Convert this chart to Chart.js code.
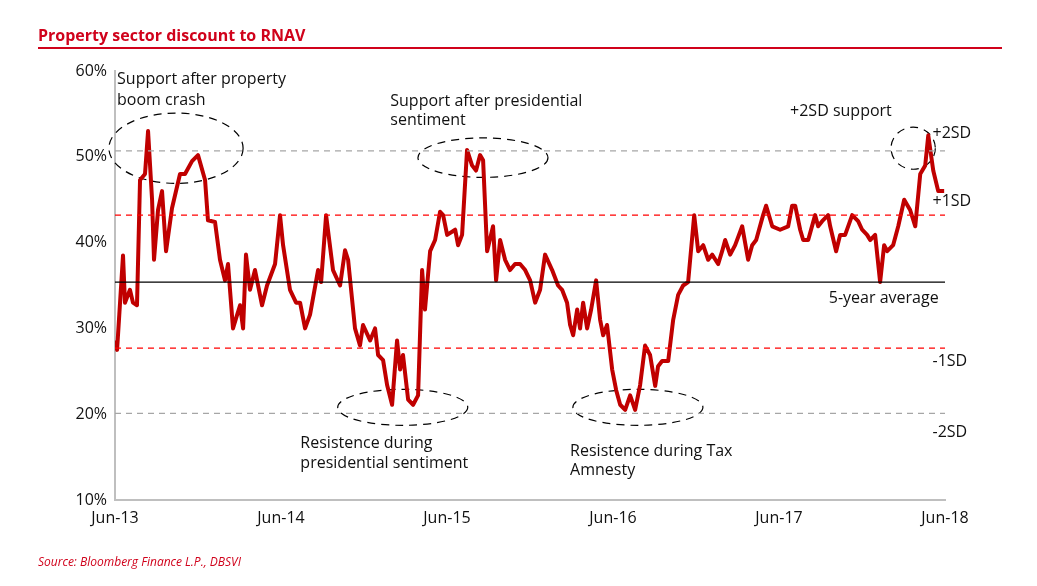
<!DOCTYPE html>
<html>
<head>
<meta charset="utf-8">
<script src="https://cdn.jsdelivr.net/npm/chart.js@4/dist/chart.umd.min.js"></script>
<style>
  body { margin: 0; background: #fff; }
  #c { display: block; }
</style>
</head>
<body>
<canvas id="c" width="1037" height="586"></canvas>
<script>
const months = ['Jun-13', 'Jun-14', 'Jun-15', 'Jun-16', 'Jun-17', 'Jun-18'];

// [months since Jun-13, discount %]
const discount = [
  [0,28.6],[0.15,27.5],[0.58,38.5],[0.72,33],[1.08,34.5],[1.3,33],[1.59,32.7],[1.81,47.3],[2.17,48],[2.39,53],
  [2.68,45],[2.82,38],[3.11,43.8],[3.4,46],[3.69,39],[4.12,44],[4.7,48],[5.06,48],[5.57,49.5],[6.0,50.2],
  [6.51,47.3],[6.72,42.6],[7.23,42.4],[7.59,38],[7.95,35.6],[8.17,37.5],[8.53,30],[9.04,32.7],[9.26,30],[9.47,38.6],
  [9.76,34.5],[10.12,36.8],[10.63,32.7],[10.99,35],[11.57,37.5],[11.93,43.2],[12.15,39.7],[12.65,34.5],[13.09,33],[13.38,33],
  [13.74,30],[14.1,31.6],[14.68,36.8],[14.9,35.4],[15.26,43.2],[15.76,36.8],[16.27,35],[16.63,39.1],[16.85,38],[17.35,30],
  [17.71,28],[17.93,30.4],[18.44,28.6],[18.8,30],[19.02,26.9],[19.38,26.3],[19.67,23.4],[20.03,21.1],[20.39,28.6],[20.61,25.2],
  [20.82,26.9],[21.19,21.7],[21.55,21.1],[21.91,22.2],[22.2,36.8],[22.41,32.2],[22.78,39],[23.14,40.3],[23.5,43.6],[23.72,43.2],
  [24.01,40.9],[24.59,41.5],[24.8,39.7],[25.09,40.9],[25.45,50.8],[25.81,49],[26.1,48.4],[26.39,50.2],[26.61,49.6],[26.9,39],
  [27.33,41.9],[27.55,35.6],[27.84,40.3],[28.2,38],[28.56,36.8],[28.92,37.5],[29.28,37.5],[29.65,36.8],[30.01,35.6],[30.37,33],
  [30.73,34.5],[31.09,38.6],[31.6,36.8],[32.03,35],[32.32,34.5],[32.68,33],[32.9,30.4],[33.12,29.2],[33.41,32.2],[33.62,30],
  [33.84,33],[34.13,30],[34.42,32.2],[34.78,35.6],[35.07,31],[35.29,29.2],[35.57,30.4],[35.94,25.2],[36.23,22.8],[36.52,21.1],
  [36.88,20.5],[37.24,22.2],[37.6,20.5],[37.96,23.4],[38.32,28],[38.68,26.9],[39.05,23.3],[39.26,25.6],[39.55,26.2],[39.99,26.2],
  [40.35,31],[40.71,33.9],[41.07,35],[41.43,35.4],[41.87,43.2],[42.16,39],[42.52,39.7],[42.88,38],[43.17,38.6],[43.6,37.5],
  [43.89,39],[44.11,40.3],[44.47,38.6],[44.83,39.7],[45.34,41.9],[45.77,38],[46.06,39.7],[46.35,40.3],[46.85,43.2],[47.07,44.3],
  [47.51,41.9],[48.08,41.5],[48.66,41.9],[48.95,44.3],[49.17,44.3],[49.53,41.5],[49.75,40.3],[50.11,40.3],[50.61,43.2],[50.83,41.9],
  [51.12,42.5],[51.55,43.2],[51.7,41.9],[52.13,39],[52.42,40.9],[52.78,40.9],[53.29,43.2],[53.72,42.5],[54.01,41.5],[54.37,40.9],
  [54.59,40.3],[54.95,40.9],[55.31,35.4],[55.6,39.7],[55.82,39],[56.25,39.7],[56.62,41.9],[57.05,45],[57.48,43.8],[57.85,41.9],
  [58.21,48],[58.57,49],[58.79,52.5],[59.15,48.4],[59.51,46],[59.94,46]
];

const levels = [
  { v: 35.4, color: '#000000', dash: [] , width: 1.3 },
  { v: 43.2, color: '#ff0000', dash: [6, 5], width: 1.3 },
  { v: 27.7, color: '#ff0000', dash: [6, 5], width: 1.3 },
  { v: 50.7, color: '#a6a6a6', dash: [6, 5], width: 1.3 },
  { v: 20.1, color: '#a6a6a6', dash: [6, 5], width: 1.3 }
];

// ellipses in data units: centre x, centre y, radius x (months), radius y (%)
const ellipses = [
  [4.41, 51.0, 4.85, 4.1],
  [26.6, 49.9, 4.7, 2.3],
  [57.7, 51.0, 1.6, 2.45],
  [20.8, 20.8, 4.7, 2.1],
  [37.8, 20.8, 4.7, 2.1]
];

const notes = [
  ['Support after property', 0.15, 59.0], ['boom crash', 0.15, 56.6],
  ['Support after presidential', 19.9, 56.5], ['sentiment', 19.9, 54.2],
  ['+2SD support', 48.8, 55.3],
  ['+2SD', 59.1, 52.7], ['+1SD', 59.1, 44.8],
  ['5-year average', 51.6, 33.5],
  ['-1SD', 59.1, 26.1], ['-2SD', 59.1, 17.9],
  ['Resistence during', 13.4, 16.6], ['presidential sentiment', 13.4, 14.3],
  ['Resistence during Tax', 32.9, 15.7], ['Amnesty', 32.9, 13.4]
];

const FONT = '"Open Sans", "DejaVu Sans", sans-serif';

const decorations = {
  id: 'decorations',
  beforeDatasetsDraw(chart) {
    const { ctx } = chart;
    const x = chart.scales.x, y = chart.scales.y;
    ctx.save();
    ctx.strokeStyle = '#000';
    ctx.lineWidth = 1.2;
    ctx.setLineDash([8, 6]);
    ellipses.forEach(([cx, cy, rx, ry]) => {
      const px = x.getPixelForValue(cx), py = y.getPixelForValue(cy);
      const prx = x.getPixelForValue(cx + rx) - px;
      const pry = py - y.getPixelForValue(cy + ry);
      ctx.beginPath();
      ctx.ellipse(px, py, prx, pry, 0, 0, Math.PI * 2);
      ctx.stroke();
    });
    ctx.restore();
  },
  afterDraw(chart) {
    const { ctx } = chart;
    const x = chart.scales.x, y = chart.scales.y;
    ctx.save();
    ctx.fillStyle = '#111';
    ctx.font = '16px ' + FONT;
    ctx.textBaseline = 'middle';
    notes.forEach(([t, nx, ny]) => ctx.fillText(t, x.getPixelForValue(nx), y.getPixelForValue(ny)));

    // title and rule
    ctx.fillStyle = '#d0021b';
    ctx.font = 'bold 16px ' + FONT;
    ctx.textBaseline = 'alphabetic';
    ctx.fillText('Property sector discount to RNAV', 38, 41);
    ctx.fillRect(38, 47, 964, 2);

    // source
    ctx.fillStyle = '#d0021b';
    ctx.font = 'italic 12px ' + FONT;
    ctx.fillText('Source: Bloomberg Finance L.P., DBSVI', 38, 566);
    ctx.restore();
  }
};

const datasets = levels.map(l => ({
  data: [{ x: 0, y: l.v }, { x: 60, y: l.v }],
  borderColor: l.color, borderDash: l.dash, borderWidth: l.width,
  pointRadius: 0, fill: false
}));
datasets.push({
  data: discount.map(([m, v]) => ({ x: m, y: v })),
  borderColor: '#c00000', borderWidth: 4, pointRadius: 0,
  tension: 0, fill: false, borderJoinStyle: 'round'
});

new Chart(document.getElementById('c'), {
  type: 'line',
  data: { datasets },
  options: {
    responsive: false,
    animation: false,
    layout: { padding: { top: 71, right: 92, bottom: 0, left: 0 } },
    plugins: { legend: { display: false }, tooltip: { enabled: false } },
    scales: {
      x: {
        type: 'linear', min: 0, max: 60,
        afterFit(s) { s.height = 86; },
        afterBuildTicks(s) { s.ticks = [0, 12, 24, 36, 48, 60].map(v => ({ value: v })); },
        grid: { display: false, drawTicks: true, tickLength: 6, color: '#bfbfbf' },
        border: { color: '#bfbfbf', width: 2 },
        ticks: { color: '#111', font: { size: 16, family: FONT }, maxRotation: 0,
                 callback: v => months[v / 12] }
      },
      y: {
        min: 10, max: 60,
        afterFit(s) { s.width = 115; },
        grid: { display: false, tickLength: 5 },
        border: { color: '#bfbfbf', width: 2 },
        ticks: { stepSize: 10, color: '#111', font: { size: 16, family: FONT }, callback: v => v + '%' }
      }
    }
  },
  plugins: [decorations]
});
</script>
</body>
</html>
